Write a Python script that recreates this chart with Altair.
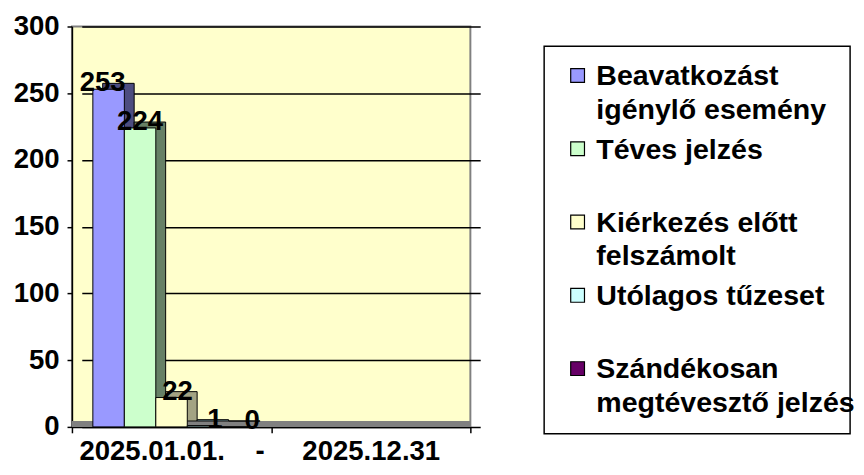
import altair as alt
import pandas as pd

categories = ["2025.01.01.\u00a0\u00a0\u00a0\u00a0-", "2025.12.31"]
series = [
    "Beavatkozást igénylő esemény",
    "Téves jelzés",
    "Kiérkezés előtt felszámolt",
    "Utólagos tűzeset",
    "Szándékosan megtévesztő jelzés",
]
legend_labels = [
    "Beavatkozást\nigénylő esemény",
    "Téves jelzés",
    "Kiérkezés előtt\nfelszámolt",
    "Utólagos tűzeset",
    "Szándékosan\nmegtévesztő jelzés",
]
values = [253, 224, 22, 1, 0]
y_ticks = [0, 50, 100, 150, 200, 250, 300]
front_colors = ["#9999FF", "#CCFFCC", "#FFFFCC", "#CCFFFF", "#660066"]
side_colors = ["#4D4D80", "#668066", "#A3A383", "#85ADB3", "#330033"]

FONT = "Liberation Sans"
AX_FS = 28
PLOT_W = 405
PLOT_H = 407
DEPTH_X = 10
DEPTH_Y = 6

df = pd.DataFrame({
    "category": [categories[0]] * len(series),
    "series": series,
    "value": values,
    "txt": [str(v) for v in values],
})

x_axis = alt.Axis(
    title=None, labelAngle=0, labelFont=FONT, labelFontSize=AX_FS,
    labelFontWeight="bold", labelColor="black", labelPadding=5,
    labelLimit=400, tickBand="extent", tickSize=6, tickColor="black",
    tickWidth=1.5, domainColor="black", domainWidth=1.5, grid=False,
)
x_front = alt.X(
    "category:N",
    scale=alt.Scale(domain=categories, paddingInner=0, paddingOuter=0),
    axis=x_axis,
)
x_plain = alt.X(
    "category:N",
    scale=alt.Scale(domain=categories, paddingInner=0, paddingOuter=0),
    axis=None,
)
x_back = alt.X(
    "category:N",
    scale=alt.Scale(domain=categories, paddingInner=0, paddingOuter=0,
                    range=[DEPTH_X, PLOT_W + DEPTH_X]),
    axis=None,
)
xo_enc = alt.XOffset(
    "series:N", scale=alt.Scale(domain=series, paddingInner=0, paddingOuter=0.664)
)
y_enc = alt.Y(
    "value:Q",
    scale=alt.Scale(domain=[0, 300]),
    axis=alt.Axis(
        title=None, values=y_ticks, labelFont=FONT, labelFontSize=AX_FS,
        labelFontWeight="bold", labelColor="black", labelPadding=8,
        tickSize=5, tickColor="black", tickWidth=1.5, domainColor="black",
        domainWidth=1.5, grid=True, gridColor="black", gridWidth=1.5,
        gridOpacity=1,
    ),
)

base = alt.Chart(df)

floor = base.mark_rule(color="#808080", strokeWidth=6, yOffset=-3).encode(
    y=alt.Y(datum=0, scale=alt.Scale(domain=[0, 300]))
)

shadow = base.mark_bar(yOffset=-DEPTH_Y, stroke="black", strokeWidth=1).encode(
    x=x_back, xOffset=xo_enc, y=y_enc,
    color=alt.Color("series:N", scale=alt.Scale(domain=series, range=side_colors), legend=None),
)

front = base.mark_bar(stroke="black", strokeWidth=1).encode(
    x=x_front, xOffset=xo_enc, y=y_enc,
    color=alt.Color("series:N", scale=alt.Scale(domain=series, range=front_colors), legend=None),
)

labels = base.mark_text(
    dx=6, dy=2, baseline="alphabetic", font=FONT, fontSize=AX_FS,
    fontWeight="bold", color="black",
).encode(x=x_plain, xOffset=xo_enc, y=y_enc, text="txt:N")

plot = (
    alt.layer(floor, shadow, front, labels)
    .resolve_scale(x="independent", xOffset="independent", color="independent")
    .properties(
        width=PLOT_W, height=PLOT_H,
        view=alt.ViewBackground(fill="#FFFFCC", stroke="#808080", strokeWidth=2),
    )
)

leg_df = pd.DataFrame({"series": series, "label": legend_labels})
leg_base = alt.Chart(leg_df).encode(
    y=alt.Y(
        "series:N",
        scale=alt.Scale(type="point", domain=series, padding=0.644, align=0.31),
        axis=None,
    )
)
leg_sym = leg_base.mark_square(size=196, stroke="black", strokeWidth=1.2, opacity=1).encode(
    x=alt.value(34),
    color=alt.Color("series:N", scale=alt.Scale(domain=series, range=front_colors), legend=None),
)
leg_txt = leg_base.mark_text(
    align="left", baseline="alphabetic", dy=10, lineBreak="\n", lineHeight=34,
    font=FONT, fontSize=29, fontWeight="bold", color="black",
).encode(x=alt.value(53), text="label:N")

legend_panel = alt.layer(leg_sym, leg_txt).properties(
    width=311, height=394,
    view=alt.ViewBackground(fill="white", stroke="black", strokeWidth=1.5),
)

spacer = alt.Chart(pd.DataFrame({"s": [0]})).mark_point(opacity=0, size=1).encode(
    x=alt.value(0), y=alt.value(0)
).properties(width=311, height=18, view=alt.ViewBackground(stroke="transparent"))

right = alt.vconcat(spacer, legend_panel, spacing=0)

chart = alt.hconcat(plot, right, spacing=70).properties(
    padding={"left": 4, "top": 0, "right": 0, "bottom": 0},
    background="white",
)

chart.save("out.html", embed_options={"renderer": "svg", "actions": False})
